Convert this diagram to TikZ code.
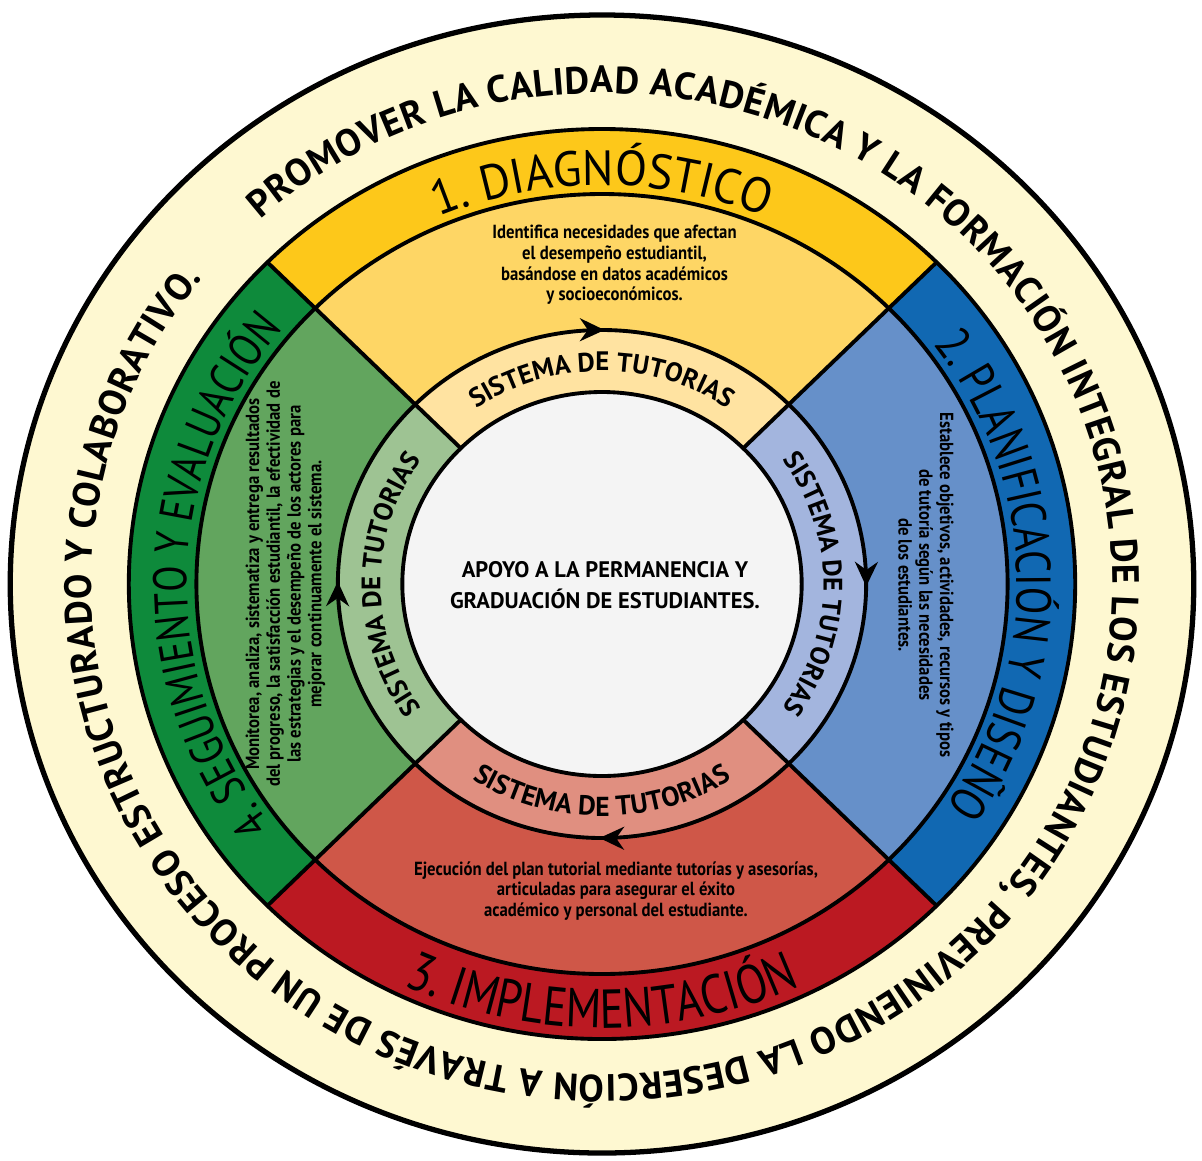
\documentclass[tikz,border=0pt]{standalone}
\usepackage{fontspec}
\setmainfont{PT Sans}
\newfontfamily\descfont{PT Sans}[FakeStretch=0.88]
\newfontfamily\bandfont{PT Sans}[FakeStretch=0.82]
\newfontfamily\bandwide{PT Sans}[FakeStretch=0.95]
\usetikzlibrary{decorations.text, decorations.markings, arrows.meta}

\definecolor{cream}{HTML}{FEF8D1}
\definecolor{topdark}{HTML}{FDC81A}
\definecolor{toplight}{HTML}{FED665}
\definecolor{toppale}{HTML}{FFE3A1}
\definecolor{rightdark}{HTML}{1168B2}
\definecolor{rightlight}{HTML}{6690C9}
\definecolor{rightpale}{HTML}{A3B5DE}
\definecolor{botdark}{HTML}{BB1922}
\definecolor{botlight}{HTML}{CF5748}
\definecolor{botpale}{HTML}{E08F80}
\definecolor{leftdark}{HTML}{0E8A3B}
\definecolor{leftlight}{HTML}{62A55E}
\definecolor{leftpale}{HTML}{9EC393}
\definecolor{hub}{HTML}{F4F4F4}

\tikzset{
  desc/.style={font=\descfont\bfseries\fontsize{5.4}{5.9}\selectfont, align=center, inner sep=0pt},
  ringline/.style={line width=1.1pt, black}
}

\begin{document}
\begin{tikzpicture}
    \useasboundingbox (-6.02,-5.76) rectangle (6.00,5.84);

    \begin{scope}[xscale=1.04]
        % outer ring
        \filldraw[fill=cream, line width=1.5pt] (0,0) circle (5.69);

        % four quadrants
        \foreach \a/\cd/\cl/\cp in {45/topdark/toplight/toppale, 135/leftdark/leftlight/leftpale,
                                    225/botdark/botlight/botpale, -45/rightdark/rightlight/rightpale}{
            \fill[\cd] (\a:3.9) -- (\a:4.55) arc[start angle=\a, delta angle=90, radius=4.55]
                -- (\a+90:3.9) arc[start angle=\a+90, delta angle=-90, radius=3.9] -- cycle;
            \fill[\cl] (\a:2.54) -- (\a:3.9) arc[start angle=\a, delta angle=90, radius=3.9]
                -- (\a+90:2.54) arc[start angle=\a+90, delta angle=-90, radius=2.54] -- cycle;
            \fill[\cp] (\a:1.92) -- (\a:2.54) arc[start angle=\a, delta angle=90, radius=2.54]
                -- (\a+90:1.92) arc[start angle=\a+90, delta angle=-90, radius=1.92] -- cycle;
        }

        \draw[ringline] (0,0) circle (4.55);
        \draw[ringline] (0,0) circle (3.9);
        \foreach \a in {45,135,225,315}
            \draw[ringline] (\a:1.92) -- (\a:4.55);

        % cycle arrows
        \draw[ringline, postaction={decorate}, decoration={markings,
            mark=between positions 0.125 and 0.9 step 0.25 with {\arrow{Stealth[length=7pt,width=6.5pt]}}}]
            (45:2.54) arc[start angle=45, end angle=-315, radius=2.54];

        \filldraw[fill=hub, line width=1.1pt] (0,0) circle (1.92);

        % outer text
        \path[decorate, decoration={text along path, text align={fit to path},
            text={|\bfseries\fontsize{10.8}{12}\selectfont|PROMOVER LA CALIDAD ACADÉMICA Y LA FORMACIÓN INTEGRAL DE LOS ESTUDIANTES, PREVINIENDO LA DESERCIÓN A TRAVÉS DE UN PROCESO ESTRUCTURADO Y COLABORATIVO.}}]
            (132:4.91) arc[start angle=132, end angle=-218.5, radius=4.91];

        % band titles
        \path[decorate, decoration={text along path, text align=center,
            text={|\bandwide\fontsize{14}{16}\selectfont|1. DIAGNÓSTICO}}]
            (140:3.99) arc[start angle=140, end angle=40, radius=3.99];
        \path[decorate, decoration={text along path, text align=center,
            text={|\bandfont\fontsize{14}{16}\selectfont|2. PLANIFICACIÓN Y DISEÑO}}]
            (51.5:3.99) arc[start angle=51.5, end angle=-48.5, radius=3.99];
        \path[decorate, decoration={text along path, text align=center,
            text={|\bandfont\fontsize{15.6}{17}\selectfont|3. IMPLEMENTACIÓN}}]
            (215:4.44) arc[start angle=215, end angle=325, radius=4.44];
        \path[decorate, decoration={text along path, text align=center,
            text={|\bandfont\fontsize{13.4}{16}\selectfont|4. SEGUIMIENTO Y EVALUACIÓN}}]
            (228.6:3.99) arc[start angle=228.6, end angle=128.6, radius=3.99];

        % tutoring ring
        \path[decorate, decoration={text along path, text align=center,
            text={|\bfseries\fontsize{7.6}{9}\selectfont|SISTEMA DE TUTORIAS}}]
            (140:2.13) arc[start angle=140, end angle=40, radius=2.13];
        \path[decorate, decoration={text along path, text align=center,
            text={|\bfseries\fontsize{7.6}{9}\selectfont|SISTEMA DE TUTORIAS}}]
            (50:2.13) arc[start angle=50, end angle=-50, radius=2.13];
        \path[decorate, decoration={text along path, text align=center,
            text={|\bfseries\fontsize{7.8}{9}\selectfont|SISTEMA DE TUTORIAS}}]
            (215:2.32) arc[start angle=215, end angle=325, radius=2.32];
        \path[decorate, decoration={text along path, text align=center,
            text={|\bfseries\fontsize{7.6}{9}\selectfont|SISTEMA DE TUTORIAS}}]
            (230:2.13) arc[start angle=230, end angle=130, radius=2.13];
    \end{scope}

    \node[font=\bfseries\fontsize{6.4}{8.8}\selectfont, align=center] (apoyo) at (0.03,-0.01)
        {APOYO A LA PERMANENCIA Y\\GRADUACIÓN DE ESTUDIANTES.};

    \node[desc] (diag) at (0.125,3.19)
        {Identifica necesidades que afectan\\el desempeño estudiantil,\\basándose en datos académicos\\y socioeconómicos.};
    \node[desc, rotate=-90] (plan) at (3.24,-0.01)
        {Establece objetivos, actividades, recursos y tipos\\de tutoría según las necesidades\\de los estudiantes.};
    \node[desc] (impl) at (0.14,-3.07)
        {Ejecución del plan tutorial mediante tutorías y asesorías,\\articuladas para asegurar el éxito\\académico y personal del estudiante.};
    \node[desc, rotate=90] (segui) at (-3.165,0)
        {Monitorea, analiza, sistematiza y entrega resultados\\del progreso, la satisfacción estudiantil, la efectividad de\\las estrategias y el desempeño de los actores para\\mejorar continuamente el sistema.};
\end{tikzpicture}
\end{document}
